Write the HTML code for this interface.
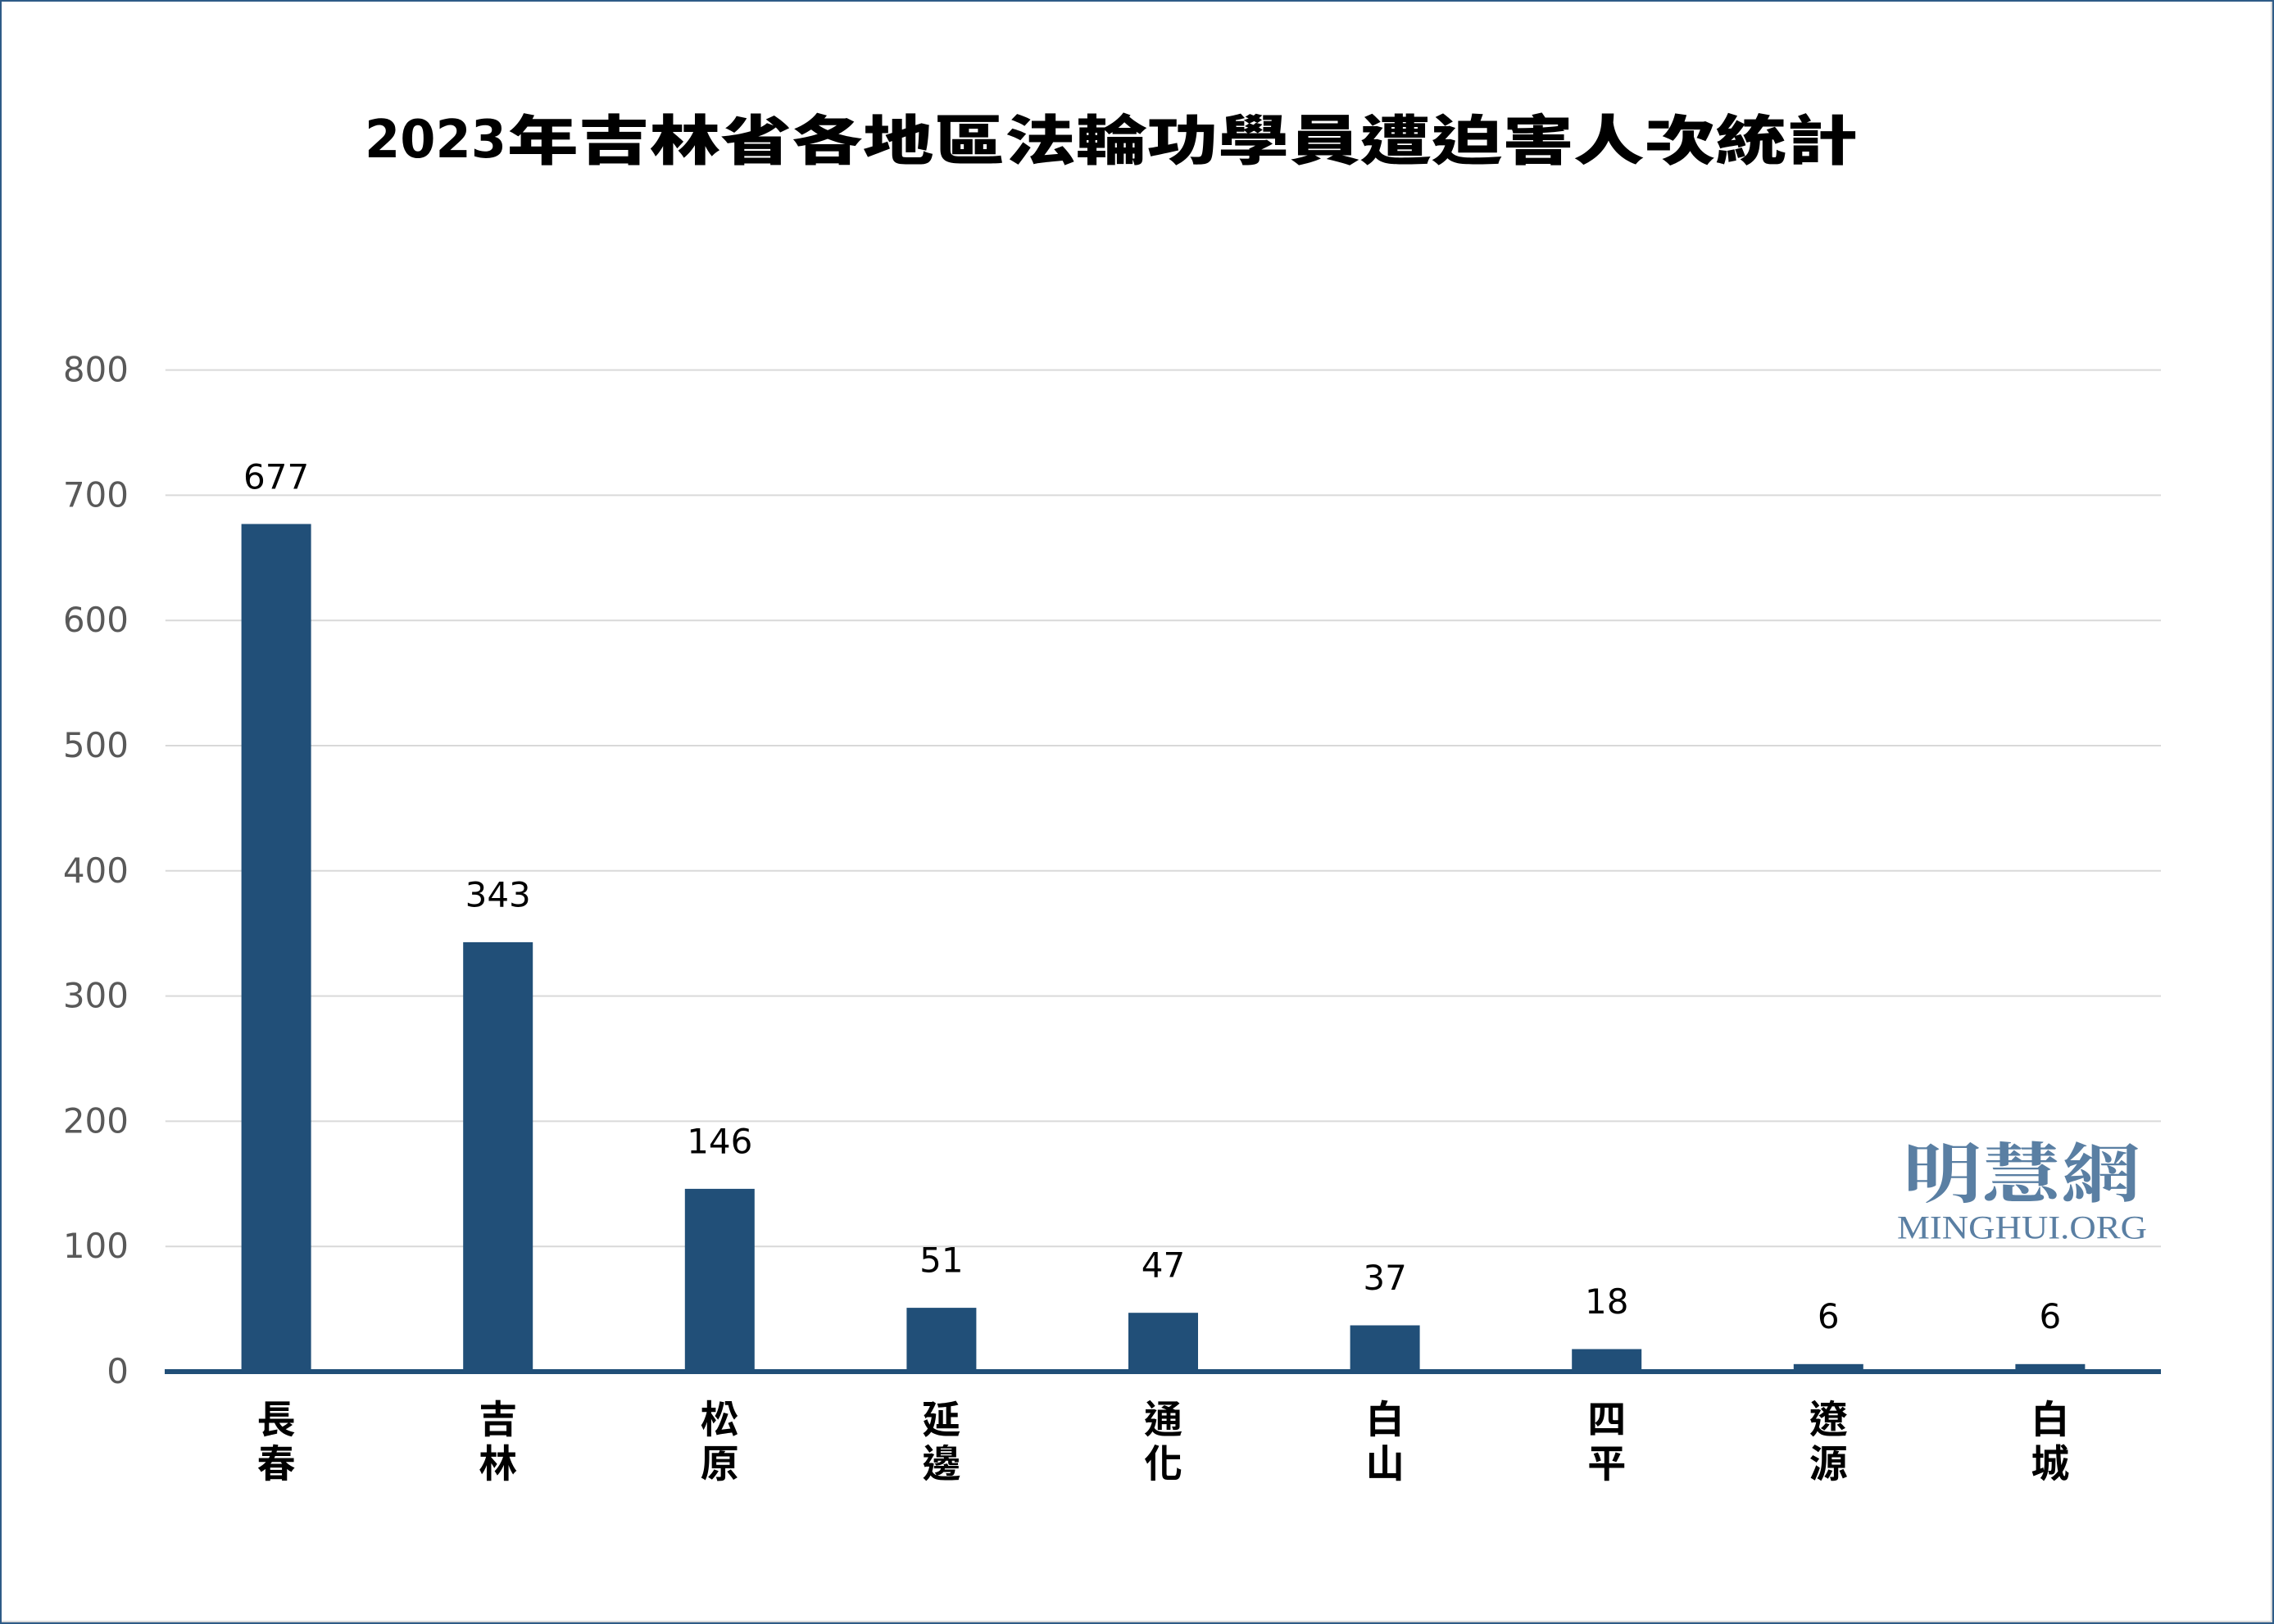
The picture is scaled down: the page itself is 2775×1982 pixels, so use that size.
<!DOCTYPE html>
<html><head><meta charset="utf-8"><style>
html,body{margin:0;padding:0;background:#fff;}
svg{display:block;}
</style></head><body>
<svg width="2775" height="1982" viewBox="0 0 2775 1982" xmlns="http://www.w3.org/2000/svg">
<rect x="0" y="0" width="2775" height="1982" fill="#ffffff"/>
<rect x="2771" y="0" width="2" height="1980" fill="#d9d9d9"/>
<rect x="0" y="1978" width="2773" height="2" fill="#d9d9d9"/>
<rect x="1" y="1" width="2773" height="1980" fill="none" stroke="#2e5b87" stroke-width="2"/>

<text x="445" y="192" font-family="DejaVu Sans, 'Liberation Sans', sans-serif" font-weight="bold" font-size="64" fill="#000" textLength="173" lengthAdjust="spacingAndGlyphs">2023</text>
<text x="619" y="195" font-family="'Noto Sans CJK TC','Noto Sans CJK SC',sans-serif" font-weight="900" font-size="66" fill="#000" textLength="1648" lengthAdjust="spacingAndGlyphs">年吉林省各地區法輪功學員遭迫害人次統計</text>

<g stroke="#d9d9d9" stroke-width="2">
<line x1="201.8" x2="2637" y1="451.6" y2="451.6"/>
<line x1="201.8" x2="2637" y1="604.4" y2="604.4"/>
<line x1="201.8" x2="2637" y1="757.2" y2="757.2"/>
<line x1="201.8" x2="2637" y1="910" y2="910"/>
<line x1="201.8" x2="2637" y1="1062.8" y2="1062.8"/>
<line x1="201.8" x2="2637" y1="1215.6" y2="1215.6"/>
<line x1="201.8" x2="2637" y1="1368.4" y2="1368.4"/>
<line x1="201.8" x2="2637" y1="1521.2" y2="1521.2"/>
</g>

<g font-family="DejaVu Sans, 'Liberation Sans', sans-serif" font-size="42" fill="#595959" text-anchor="end">
<text x="157" y="465.6">800</text>
<text x="157" y="618.4">700</text>
<text x="157" y="771.2">600</text>
<text x="157" y="924">500</text>
<text x="157" y="1076.8">400</text>
<text x="157" y="1229.6">300</text>
<text x="157" y="1382.4">200</text>
<text x="157" y="1535.2">100</text>
<text x="157" y="1688">0</text>
</g>

<g fill="#214f78">
<rect x="294.6" y="639.5" width="85" height="1032"/>
<rect x="565.2" y="1149.9" width="85" height="522"/>
<rect x="835.8" y="1450.9" width="85" height="221"/>
<rect x="1106.4" y="1596.1" width="85" height="76"/>
<rect x="1377" y="1602.2" width="85" height="70"/>
<rect x="1647.6" y="1617.5" width="85" height="55"/>
<rect x="1918.2" y="1646.5" width="85" height="26"/>
<rect x="2188.8" y="1664.8" width="85" height="7"/>
<rect x="2459.4" y="1664.8" width="85" height="7"/>
<rect x="201" y="1671" width="2436" height="6"/>
</g>

<g font-family="DejaVu Sans, 'Liberation Sans', sans-serif" font-size="42" fill="#000" text-anchor="middle">
<text x="337.1" y="596.5">677</text>
<text x="607.7" y="1106.5">343</text>
<text x="878.3" y="1407.5">146</text>
<text x="1148.9" y="1552.5">51</text>
<text x="1419.5" y="1558.5">47</text>
<text x="1690.1" y="1574">37</text>
<text x="1960.7" y="1603">18</text>
<text x="2231.3" y="1621">6</text>
<text x="2501.9" y="1621">6</text>
</g>

<g font-family="'Noto Sans CJK TC','Noto Sans CJK SC',sans-serif" font-weight="bold" font-size="47" fill="#000" text-anchor="middle">
<text x="337.1" y="1749">長</text><text x="337.1" y="1803">春</text>
<text x="607.7" y="1749">吉</text><text x="607.7" y="1803">林</text>
<text x="878.3" y="1749">松</text><text x="878.3" y="1803">原</text>
<text x="1148.9" y="1749">延</text><text x="1148.9" y="1803">邊</text>
<text x="1419.5" y="1749">通</text><text x="1419.5" y="1803">化</text>
<text x="1690.1" y="1749">白</text><text x="1690.1" y="1803">山</text>
<text x="1960.7" y="1749">四</text><text x="1960.7" y="1803">平</text>
<text x="2231.3" y="1749">遼</text><text x="2231.3" y="1803">源</text>
<text x="2501.9" y="1749">白</text><text x="2501.9" y="1803">城</text>
</g>

<text x="2322" y="1461" font-family="'Noto Serif CJK SC','Noto Sans CJK TC',serif" font-weight="bold" font-size="80" fill="#5a7fa3" textLength="290" lengthAdjust="spacingAndGlyphs">明慧網</text>
<text x="2315" y="1511.5" font-family="'Liberation Serif',serif" font-size="40" fill="#5a7fa3" textLength="305" lengthAdjust="spacingAndGlyphs">MINGHUI.ORG</text>
</svg>
</body></html>
